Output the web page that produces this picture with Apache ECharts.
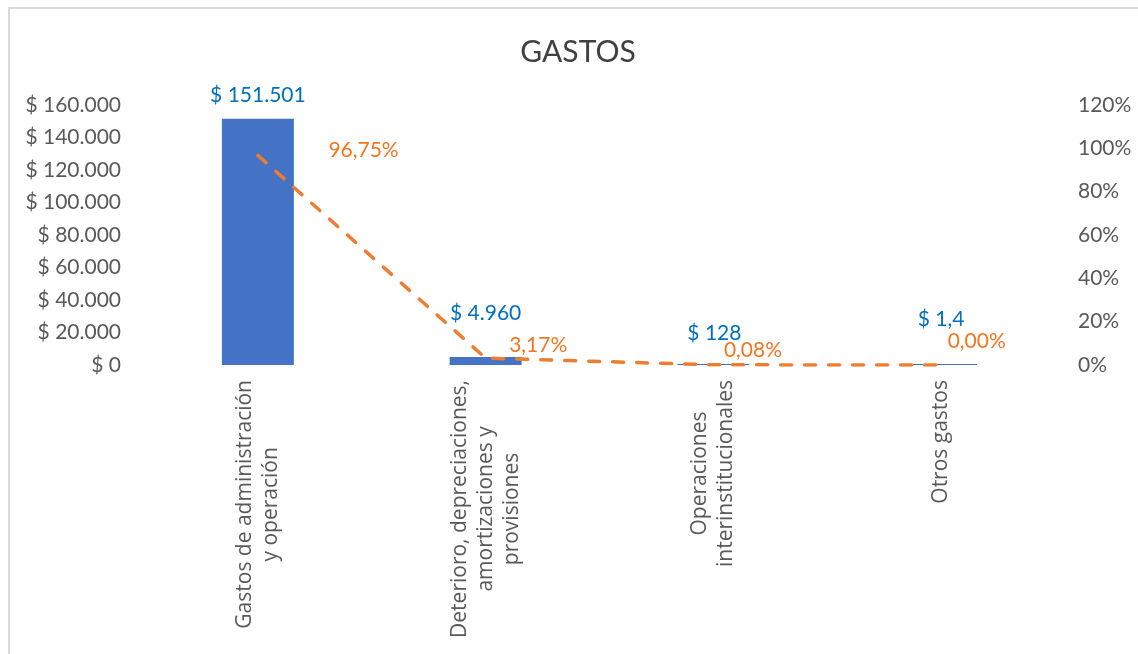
<!DOCTYPE html>
<html>
<head>
<meta charset="utf-8">
<script src="https://cdn.jsdelivr.net/npm/echarts@6/dist/echarts.min.js"></script>
<style>
  html, body { margin: 0; padding: 0; background: #fff; }
  #frame { position: absolute; left: 8px; top: 7px; width: 1200px; height: 700px;
           border-left: 2px solid #d9d9d9; border-top: 2px solid #d9d9d9; }
  #main { position: absolute; left: 0; top: 0; width: 1138px; height: 654px; }
</style>
</head>
<body>
<div id="frame"></div>
<div id="main"></div>
<script>
// datos del gráfico
var categorias = [
  'Gastos de administración\ny operación',
  'Deterioro, depreciaciones,\namortizaciones y\nprovisiones',
  'Operaciones\ninterinstitucionales',
  'Otros gastos'
];
var gastos = [151501, 4960, 128, 1.4];
var porcentajes = [96.75, 3.17, 0.08, 0.00];

// desplazamiento manual de etiquetas (como en Excel)
var offsetGasto = [[0, -12], [0, -32], [1, -19], [0, -33]];
var offsetPct = [[70, -5], [23, -13], [10, -15], [6, -24]];

var FONT = 'Lato';
var FONT_CAT = '"Open Sans"';

function fmtNum(v, dec) {
  var s = v.toFixed(dec || 0);
  var parts = s.split('.');
  parts[0] = parts[0].replace(/\B(?=(\d{3})+(?!\d))/g, '.');
  return parts.length > 1 ? parts[0] + ',' + parts[1] : parts[0];
}

var chart = echarts.init(document.getElementById('main'), null, { renderer: 'canvas' });

var option = {
  animation: false,
  title: {
    text: 'GASTOS',
    left: 573,
    top: 32,
    textAlign: 'center',
    textStyle: { fontFamily: FONT, fontSize: 30, fontWeight: 'normal', color: '#404040' }
  },
  grid: { left: 144, right: 83, top: 105, bottom: 289 },
  xAxis: {
    type: 'category',
    data: categorias,
    axisLine: { show: false },
    axisTick: { show: false },
    axisLabel: {
      interval: 0,
      rotate: 90,
      margin: 15,
      fontFamily: FONT_CAT,
      fontSize: 21,
      color: '#595959',
      formatter: function (v) {
        return v.split('\n').map(function (l) { return '{c|' + l + '}'; }).join('\n');
      },
      rich: {
        c: { align: 'center', fontFamily: FONT_CAT, fontSize: 21, color: '#595959', lineHeight: 26 }
      }
    }
  },
  yAxis: [
    {
      type: 'value',
      min: 0, max: 160000, interval: 20000,
      splitLine: { show: false },
      axisLine: { show: false },
      axisTick: { show: false },
      axisLabel: {
        margin: 23,
        fontFamily: FONT, fontSize: 21, color: '#595959',
        formatter: function (v) { return '$ ' + fmtNum(v); }
      }
    },
    {
      type: 'value',
      min: 0, max: 120, interval: 20,
      splitLine: { show: false },
      axisLine: { show: false },
      axisTick: { show: false },
      axisLabel: {
        margin: 23,
        fontFamily: FONT, fontSize: 21, color: '#595959',
        formatter: function (v) { return v + '%'; }
      }
    }
  ],
  series: [
    {
      type: 'bar',
      yAxisIndex: 0,
      barWidth: 72,
      barMinHeight: 1,
      itemStyle: { color: '#4472C4' },
      data: gastos.map(function (v, i) {
        return {
          value: v,
          label: { offset: offsetGasto[i] }
        };
      }),
      label: {
        show: true,
        position: 'top',
        distance: 0,
        fontFamily: FONT, fontSize: 21, lineHeight: 24, color: '#0070C0',
        formatter: function (p) {
          return '$ ' + fmtNum(p.value, p.value % 1 ? 1 : 0);
        }
      },
      z: 2
    },
    {
      type: 'line',
      yAxisIndex: 1,
      symbol: 'circle',
      symbolSize: 1,
      itemStyle: { color: '#ED7D31' },
      lineStyle: { color: '#ED7D31', width: 3.5, type: [11, 13], cap: 'round' },
      data: porcentajes.map(function (v, i) {
        return {
          value: v,
          label: { offset: offsetPct[i] }
        };
      }),
      label: {
        show: true,
        position: 'right',
        distance: 0,
        fontFamily: FONT, fontSize: 21, color: '#F2761E',
        formatter: function (p) { return fmtNum(p.value, 2) + '%'; }
      },
      z: 3
    }
  ]
};

chart.setOption(option);
</script>
</body>
</html>
